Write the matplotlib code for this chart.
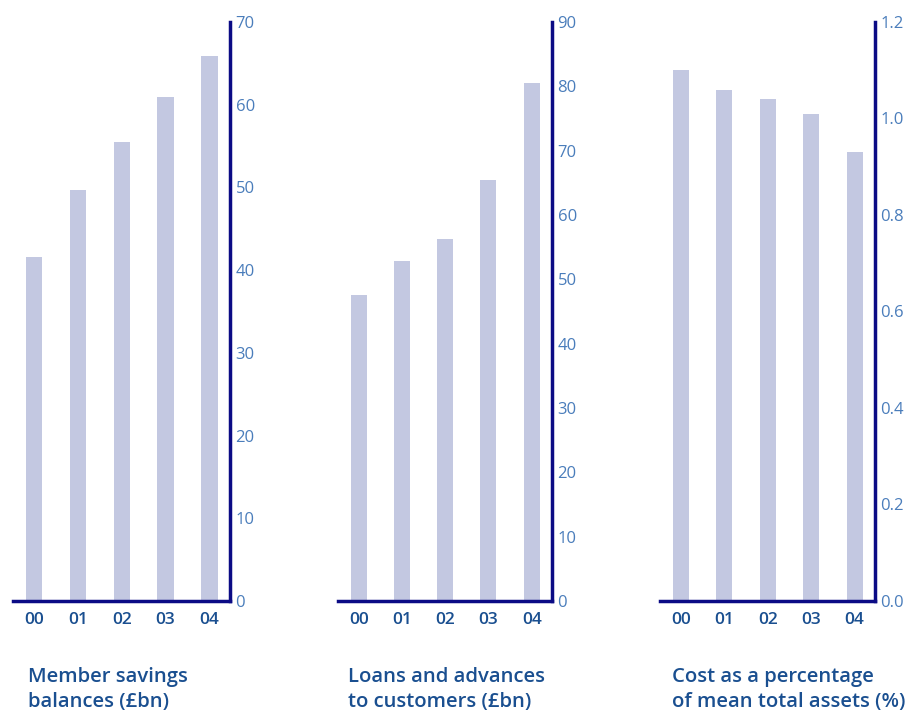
import numpy as np
import matplotlib.pyplot as plt

years = ["00", "01", "02", "03", "04"]
savings = [41.6, 49.7, 55.5, 60.9, 65.9]
loans = [47.5, 52.9, 56.3, 65.5, 80.5]
cost_pct = [1.10, 1.06, 1.04, 1.01, 0.93]

titles = ["Member savings\nbalances (£bn)",
          "Loans and advances\nto customers (£bn)",
          "Cost as a percentage\nof mean total assets (%)"]
yticks = [np.arange(0, 71, 10), np.arange(0, 91, 10), np.arange(0, 1.21, 0.2)]
ylims = [70, 90, 1.2]
fmts = ["{:.0f}", "{:.0f}", "{:.1f}"]

BAR = "#c3c8e1"
AXIS = "#0b0b85"
TICK = "#4a7dbb"
LABEL = "#1a4f90"

plt.rcParams['font.family'] = ['Open Sans', 'DejaVu Sans']

W, H = 906, 711
fig = plt.figure(figsize=(9.06, 7.11), dpi=100)

# axes boxes in pixels: left, right
boxes = [(13, 230), (338, 552), (660, 875)]
title_x = [28, 348, 672]
top_px, bot_px = 22, 601

for i, data in enumerate([savings, loans, cost_pct]):
    l, r = boxes[i]
    ax = fig.add_axes([l / W, 1 - bot_px / H, (r - l) / W, (bot_px - top_px) / H])
    x = np.arange(len(years))
    ax.bar(x, data, width=0.37, color=BAR)
    ax.set_xlim(-0.48, 4.47)
    ax.set_ylim(0, ylims[i])
    for s in ['top', 'left']:
        ax.spines[s].set_visible(False)
    for s in ['right', 'bottom']:
        ax.spines[s].set_color(AXIS)
        ax.spines[s].set_linewidth(2.5)
    ax.yaxis.tick_right()
    ax.set_yticks(yticks[i])
    ax.set_yticklabels([fmts[i].format(v) for v in yticks[i]])
    ax.tick_params(axis='y', length=0, pad=4, labelsize=12, labelcolor=TICK)
    ax.set_xticks(x)
    ax.set_xticklabels(years, fontweight='semibold')
    ax.tick_params(axis='x', length=0, pad=8, labelsize=12.5, labelcolor=LABEL)
    fig.text(title_x[i] / W, 1 - 667 / H, titles[i], ha='left', va='top',
             fontsize=14.6, fontweight='semibold', color=LABEL, linespacing=1.3)

fig.savefig("out.png", dpi=100)
